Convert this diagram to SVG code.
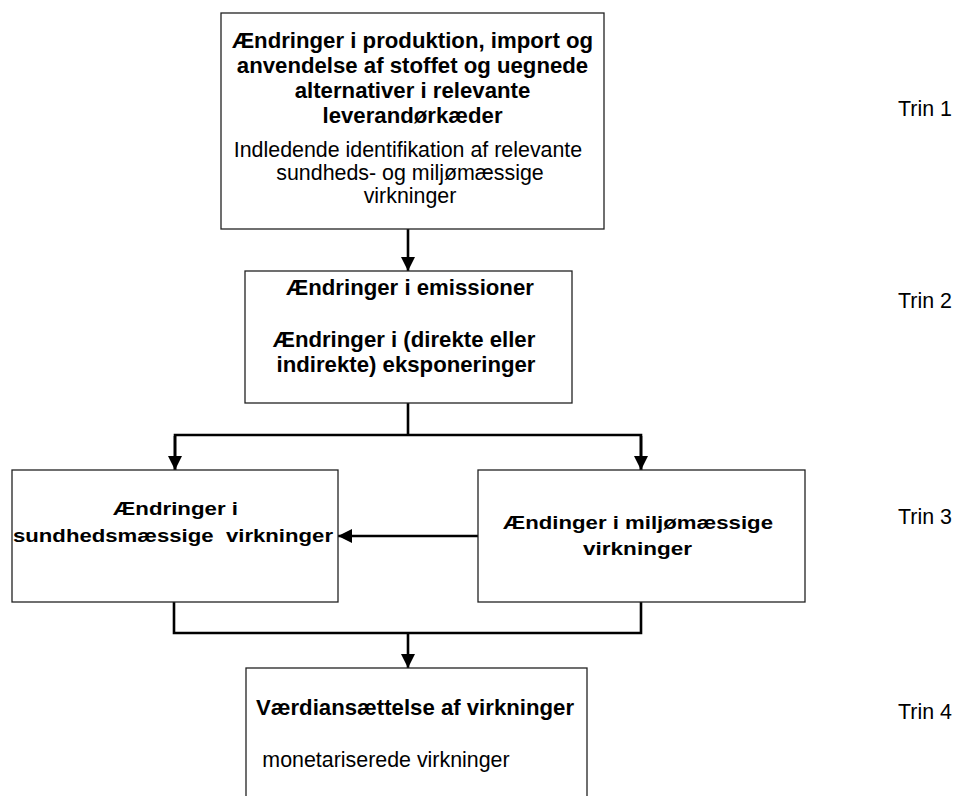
<svg xmlns="http://www.w3.org/2000/svg" width="960" height="796" viewBox="0 0 960 796">
<defs>
<style>
.box{fill:#fff;stroke:#222;stroke-width:1.3}
.b{font-family:"Liberation Sans",Arial,sans-serif;font-weight:bold;font-size:22.2px;fill:#000;text-anchor:middle}
.r{font-family:"Liberation Sans",Arial,sans-serif;font-size:21.4px;fill:#000;text-anchor:middle}
.n{font-family:"Liberation Sans",Arial,sans-serif;font-weight:bold;font-size:18px;fill:#000}
.t{font-family:"Liberation Sans",Arial,sans-serif;font-size:21.4px;fill:#000}
.c{fill:none;stroke:#000;stroke-width:2.6}
</style>
<marker id="ah" markerUnits="userSpaceOnUse" markerWidth="14" markerHeight="14" viewBox="0 0 12 12" refX="12" refY="6" orient="auto">
<path d="M0,0 L12,6 L0,12 Z" fill="#000"/>
</marker>
</defs>
<rect width="960" height="796" fill="#fff"/>

<g id="connectors">
<line class="c" x1="408" y1="229" x2="408" y2="271" marker-end="url(#ah)"/>
<polyline class="c" points="408,403 408,435"/>
<polyline class="c" points="175,470 175,435 641,435 641,470"/>
<line class="c" x1="175" y1="436" x2="175" y2="470" marker-end="url(#ah)"/>
<line class="c" x1="641" y1="436" x2="641" y2="470" marker-end="url(#ah)"/>
<line class="c" x1="478" y1="536" x2="338" y2="536" marker-end="url(#ah)"/>
<polyline class="c" points="174,602 174,633 641,633 641,602"/>
<line class="c" x1="408" y1="633" x2="408" y2="668" marker-end="url(#ah)"/>
</g>

<g id="node1">
<rect class="box" x="221" y="13" width="383" height="216"/>
<text class="b" x="412.5" y="48">Ændringer i produktion, import og</text>
<text class="b" x="412.5" y="73">anvendelse af stoffet og uegnede</text>
<text class="b" x="412.5" y="98">alternativer i relevante</text>
<text class="b" x="412.5" y="123">leverandørkæder</text>
<text class="r" x="408" y="157">Indledende identifikation af relevante</text>
<text class="r" x="410" y="180">sundheds- og miljømæssige</text>
<text class="r" x="410" y="203">virkninger</text>
</g>

<g id="node2">
<rect class="box" x="245" y="271" width="327" height="132"/>
<text class="b" x="410" y="295">Ændringer i emissioner</text>
<text class="b" x="404" y="347">Ændringer i (direkte eller</text>
<text class="b" x="406" y="372">indirekte) eksponeringer</text>
</g>

<g id="node3">
<rect class="box" x="12" y="470" width="326" height="132"/>
<text class="n" x="113" y="515" textLength="125" lengthAdjust="spacingAndGlyphs">Ændringer i</text>
<text class="n" x="13" y="542" textLength="320" lengthAdjust="spacingAndGlyphs" xml:space="preserve">sundhedsmæssige  virkninger</text>
</g>

<g id="node4">
<rect class="box" x="478" y="470" width="327" height="132"/>
<text class="n" x="503" y="529" textLength="270" lengthAdjust="spacingAndGlyphs">Ændinger i miljømæssige</text>
<text class="n" x="583" y="555" textLength="109" lengthAdjust="spacingAndGlyphs">virkninger</text>
</g>

<g id="node5">
<rect class="box" x="246" y="668" width="341" height="140"/>
<text class="b" x="415" y="715">Værdiansættelse af virkninger</text>
<text class="r" x="386" y="767">monetariserede virkninger</text>
</g>

<g id="labels">
<text class="t" x="898" y="116">Trin 1</text>
<text class="t" x="898" y="308">Trin 2</text>
<text class="t" x="898" y="524">Trin 3</text>
<text class="t" x="898" y="719">Trin 4</text>
</g>
</svg>
